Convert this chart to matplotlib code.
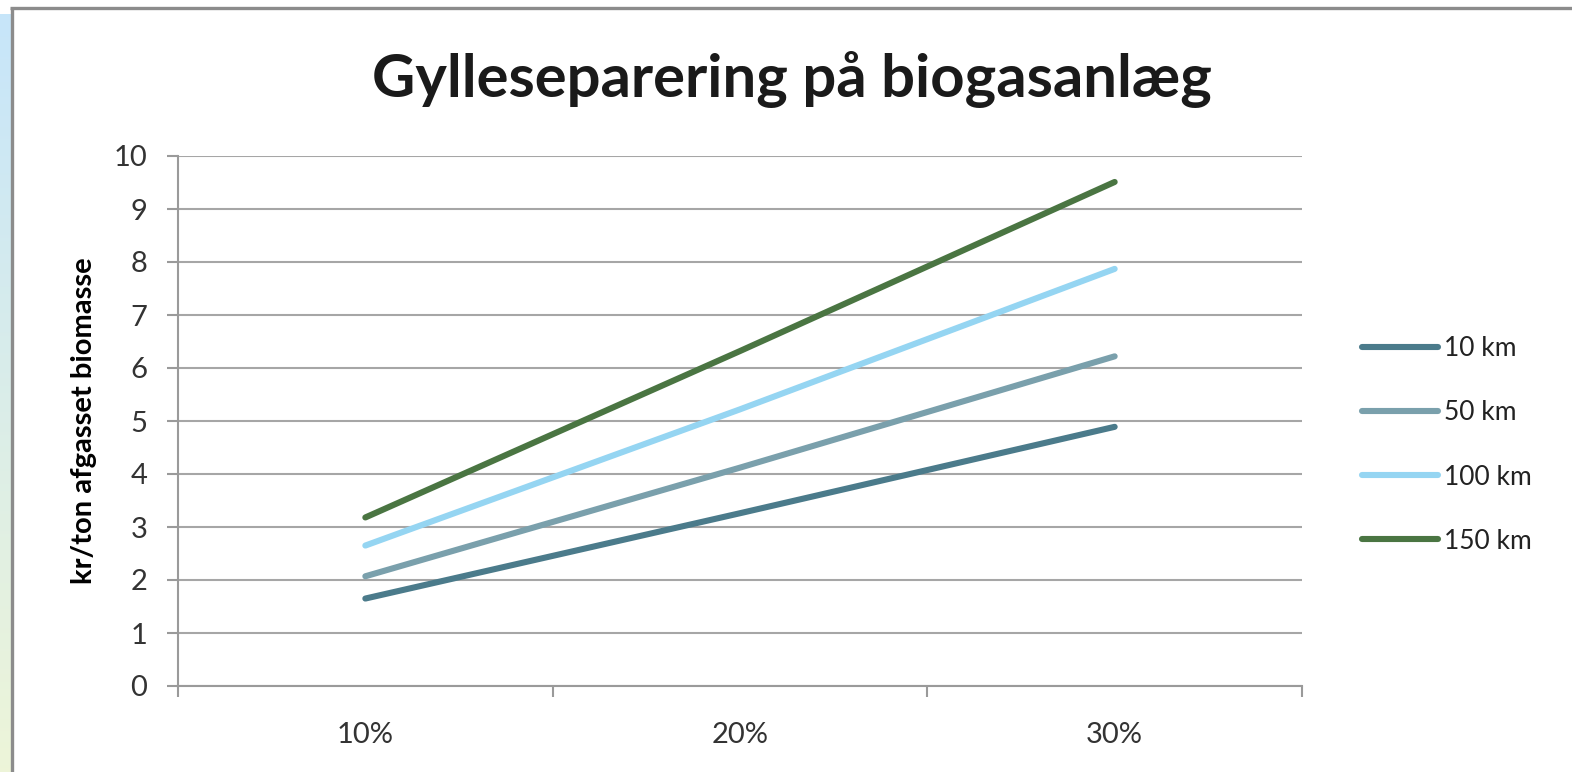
import matplotlib

matplotlib.use("Agg")

import matplotlib.pyplot as plt
import numpy as np

categories = ["10%", "20%", "30%"]
series_names = ["10 km", "50 km", "100 km", "150 km"]
values_10 = [1.65, 3.26, 4.89]
values_50 = [2.07, 4.12, 6.22]
values_100 = [2.65, 5.22, 7.87]
values_150 = [3.18, 6.32, 9.51]
colors = ["#4b7b8b", "#7aa0ac", "#95d5f2", "#4a7542"]

plt.rcParams["font.family"] = ["Lato", "DejaVu Sans"]

W, H = 1572, 772
fig = plt.figure(figsize=(W / 100, H / 100), dpi=100)

# left gradient strip and gray frame
bg = fig.add_axes([0, 0, 1, 1], zorder=-5)
bg.set_xlim(0, W)
bg.set_ylim(H, 0)
bg.axis("off")
grad = np.linspace(0, 1, 256)[:, None]
top_c = np.array([0.78, 0.90, 0.98])
bot_c = np.array([0.93, 0.96, 0.85])
img = top_c[None, None, :] * (1 - grad[:, :, None]) + bot_c[None, None, :] * grad[:, :, None]
bg.imshow(img, extent=[0, 11, H, 14], aspect="auto")
bg.plot([11.5, 11.5], [7.5, H], color="#8c8c8c", lw=2.4, solid_capstyle="butt")
bg.plot([10, W], [7.5, 7.5], color="#8c8c8c", lw=2.4, solid_capstyle="butt")

ax = fig.add_axes([178 / W, 86 / H, (1302 - 178) / W, (686 - 156) / H])
x = np.arange(len(categories))
all_values = [values_10, values_50, values_100, values_150]
for name, vals, col in zip(series_names, all_values, colors):
    ax.plot(x, vals, color=col, lw=4.4, solid_capstyle="round", label=name)

ax.set_xlim(-0.5, len(categories) - 0.5)
ax.set_ylim(0, 10)
ax.set_yticks(np.arange(0, 11, 1))
ax.set_xticks(x)
ax.set_xticklabels(categories)
ax.set_xticks(np.arange(-0.5, len(categories), 1), minor=True)
ax.tick_params(axis="x", which="major", length=0, pad=26, labelsize=21, labelcolor="#333333")
ax.tick_params(axis="x", which="minor", length=8, width=1.5, color="#9a9a9a")
ax.tick_params(axis="y", length=8, width=1.5, color="#9a9a9a", pad=14, labelsize=21, labelcolor="#333333")
ax.grid(axis="y", color="#a6a6a6", lw=1.5)
ax.set_axisbelow(True)
for side in ["top", "right"]:
    ax.spines[side].set_visible(False)
for side in ["left", "bottom"]:
    ax.spines[side].set_color("#9a9a9a")
    ax.spines[side].set_linewidth(1.5)

ax.set_ylabel("kr/ton afgasset biomasse", fontsize=21, fontweight="bold", labelpad=12)
fig.text(792 / W, 1 - 80 / H, "Gylleseparering på biogasanlæg", ha="center", va="center",
         fontsize=43, fontweight="bold", color="#1a1a1a")

leg = fig.legend(loc="center left", bbox_to_anchor=(1338 / W, 1 - 445 / H), frameon=False,
                 fontsize=19, handlelength=2.9, handletextpad=0.2, labelspacing=1.48)
for t in leg.get_texts():
    t.set_color("#222222")

fig.savefig("out.png", dpi=100)
